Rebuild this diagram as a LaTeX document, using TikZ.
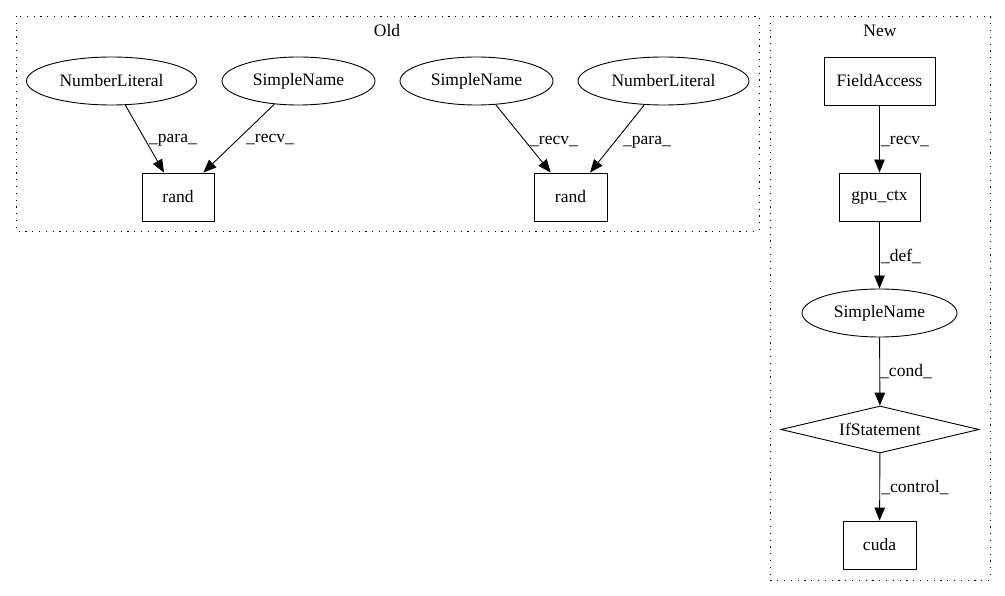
\documentclass[tikz,border=0pt]{standalone}
\usepackage{fontspec}
\setmainfont{Liberation Serif}
\usetikzlibrary{arrows.meta,shapes.geometric}
\begin{document}
\begin{tikzpicture}[x=1pt,y=-1pt,
  every node/.style={font=\fontsize{17.5}{20}\selectfont, inner sep=0pt},
  ell/.style={draw, ellipse, line width=0.9pt, minimum height=48pt},
  box/.style={draw, rectangle, line width=0.9pt, minimum height=48pt},
  dia/.style={draw, diamond, aspect=4.2, line width=0.9pt, minimum width=198pt, minimum height=47pt},
  cluster/.style={draw, line width=0.9pt, dash pattern=on 1.2pt off 5.6pt},
  edge/.style={line width=0.9pt, -{Triangle[length=13pt,width=10.5pt]}},
  elab/.style={font=\fontsize{17.5}{20}\selectfont}
]
\useasboundingbox (0,0) rectangle (1005,596);
% clusters
\draw[cluster] (16,16) rectangle (759,231);
\draw[cluster] (770,16) rectangle (990,580);
\node (oldlbl) at (387,31) {Old};
\node (newlbl) at (880,31) {New};
% Old nodes
\node[ell, minimum width=170pt] (nl1) at (111.5,81) {NumberLiteral};
\node[ell, minimum width=153pt] (sn1) at (298.5,81) {SimpleName};
\node[box, minimum width=72pt] (r1) at (178,197) {rand};
\node[ell, minimum width=153pt] (sn2) at (476.5,81) {SimpleName};
\node[ell, minimum width=171pt] (nl2) at (663.5,81) {NumberLiteral};
\node[box, minimum width=73pt] (r2) at (570.5,197) {rand};
% New nodes
\node[box, minimum width=111pt] (fa) at (879.5,81) {FieldAccess};
\node[box, minimum width=81pt] (gpu) at (879.5,197) {gpu\_ctx};
\node[ell, minimum width=155pt] (sn3) at (879.5,313) {SimpleName};
\node[dia] (ifs) at (880,429.5) {IfStatement};
\node[box, minimum width=73pt] (cuda) at (879.5,545) {cuda};
% edges
\draw[edge] (nl1) -- (r1);
\draw[edge] (sn1) -- (r1);
\draw[edge] (sn2) -- (r2);
\draw[edge] (nl2) -- (r2);
\draw[edge] (fa) -- (gpu);
\draw[edge] (gpu) -- (sn3);
\draw[edge] (sn3) -- (ifs);
\draw[edge] (ifs) -- (cuda);
% edge labels
\node[elab] (l1) at (173,140) {\_para\_};
\node[elab] (l2) at (270,140) {\_recv\_};
\node[elab] (l3) at (554,142) {\_recv\_};
\node[elab] (l4) at (647,142) {\_para\_};
\node[elab] (l5) at (905,142) {\_recv\_};
\node[elab] (l6) at (901,256) {\_def\_};
\node[elab] (l7) at (906,372) {\_cond\_};
\node[elab] (l8) at (915,488) {\_control\_};
\end{tikzpicture}
\end{document}
